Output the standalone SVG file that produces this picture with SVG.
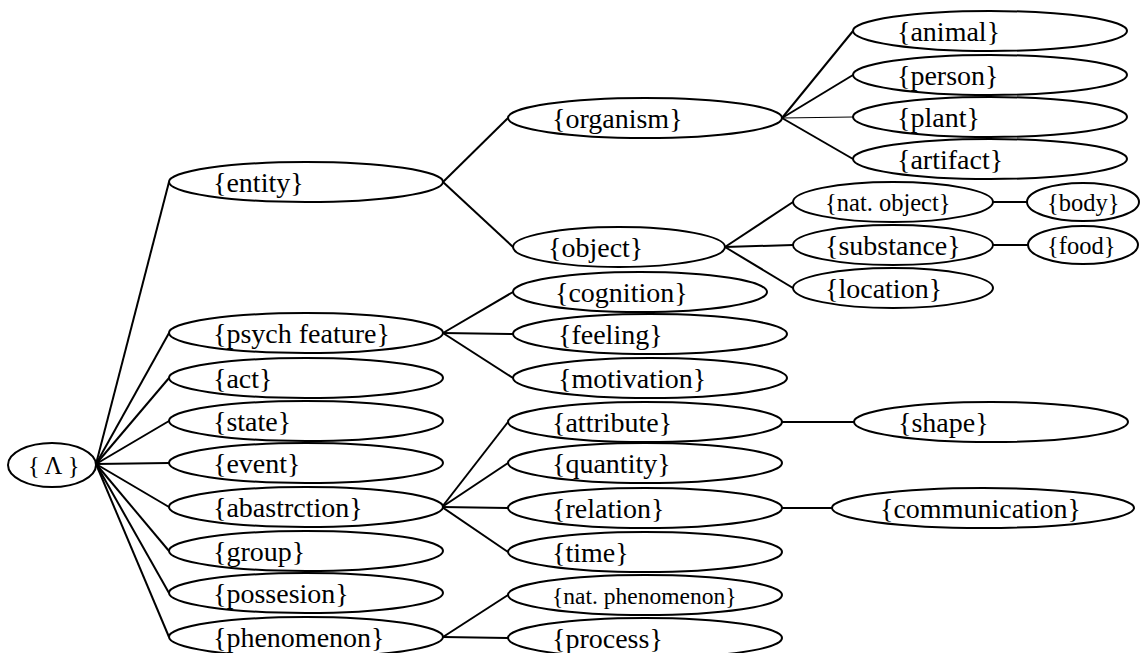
<svg xmlns="http://www.w3.org/2000/svg" width="1141" height="653" viewBox="0 0 1141 653">
<style>
ellipse{fill:#fff;stroke:#000;stroke-width:2}
text{font-family:"Liberation Serif","Times New Roman",serif;font-size:28px;fill:#000}
.sm{font-size:24.5px}
.xs{font-size:23.5px}
#connectors line{stroke:#000;stroke-width:2}
#connectors line.thin{stroke-width:1.2}
</style>
<rect width="1141" height="653" fill="#fff"/>
<g id="connectors">
<line x1="96" y1="464" x2="169" y2="182"/>
<line x1="96" y1="464" x2="169" y2="333"/>
<line x1="96" y1="464" x2="169" y2="378"/>
<line x1="96" y1="464" x2="169" y2="421"/>
<line x1="96" y1="464" x2="169" y2="463"/>
<line x1="96" y1="464" x2="169" y2="507"/>
<line x1="96" y1="464" x2="169" y2="551"/>
<line x1="96" y1="464" x2="169" y2="593"/>
<line x1="96" y1="464" x2="169" y2="637"/>
<line x1="443" y1="182" x2="508" y2="118"/>
<line x1="443" y1="182" x2="513" y2="247"/>
<line x1="782" y1="118" x2="853" y2="31"/>
<line x1="782" y1="118" x2="853" y2="75"/>
<line class="thin" x1="782" y1="118" x2="853" y2="117"/>
<line x1="782" y1="118" x2="853" y2="159"/>
<line x1="725" y1="247" x2="793" y2="202"/>
<line x1="725" y1="247" x2="793" y2="245"/>
<line x1="725" y1="247" x2="793" y2="288"/>
<line x1="993" y1="202" x2="1027" y2="202"/>
<line x1="993" y1="245" x2="1028" y2="245"/>
<line x1="443" y1="333" x2="513" y2="292"/>
<line x1="443" y1="333" x2="513" y2="334"/>
<line x1="443" y1="333" x2="513" y2="378"/>
<line x1="442" y1="507" x2="508" y2="422"/>
<line x1="442" y1="507" x2="508" y2="463"/>
<line x1="442" y1="507" x2="508" y2="508"/>
<line x1="442" y1="507" x2="508" y2="552"/>
<line x1="443" y1="637" x2="508" y2="595"/>
<line x1="443" y1="637" x2="508" y2="638"/>
<line x1="782" y1="422" x2="854" y2="422"/>
<line x1="782" y1="508" x2="832" y2="508"/>
</g>
<g id="root"><ellipse cx="52" cy="465" rx="44" ry="22"/><text x="28" y="474" class="sm">{ Λ }</text></g>
<g id="entity"><ellipse cx="306" cy="182" rx="137" ry="20"/><text x="213" y="192">{entity}</text></g>
<g id="psych-feature"><ellipse cx="306" cy="333" rx="137" ry="20"/><text x="213" y="343">{psych feature}</text></g>
<g id="act"><ellipse cx="306" cy="378" rx="137" ry="20"/><text x="213" y="388">{act}</text></g>
<g id="state"><ellipse cx="306" cy="421" rx="137" ry="20"/><text x="213" y="431">{state}</text></g>
<g id="event"><ellipse cx="306" cy="463" rx="137" ry="20"/><text x="213" y="473">{event}</text></g>
<g id="abastrction"><ellipse cx="306" cy="507" rx="137" ry="20"/><text x="213" y="517">{abastrction}</text></g>
<g id="group"><ellipse cx="306" cy="551" rx="137" ry="20"/><text x="213" y="561">{group}</text></g>
<g id="possesion"><ellipse cx="306" cy="593" rx="137" ry="20"/><text x="213" y="603">{possesion}</text></g>
<g id="phenomenon"><ellipse cx="306" cy="637" rx="137" ry="20"/><text x="213" y="647">{phenomenon}</text></g>
<g id="organism"><ellipse cx="645" cy="118" rx="137" ry="20"/><text x="552" y="128">{organism}</text></g>
<g id="object"><ellipse cx="619" cy="247" rx="106" ry="20"/><text x="548" y="257">{object}</text></g>
<g id="cognition"><ellipse cx="640" cy="292" rx="127" ry="20"/><text x="555" y="302">{cognition}</text></g>
<g id="feeling"><ellipse cx="650" cy="334" rx="137" ry="20"/><text x="558" y="344">{feeling}</text></g>
<g id="motivation"><ellipse cx="650" cy="378" rx="137" ry="20"/><text x="558" y="388">{motivation}</text></g>
<g id="attribute"><ellipse cx="645" cy="422" rx="137" ry="20"/><text x="552" y="432">{attribute}</text></g>
<g id="quantity"><ellipse cx="645" cy="463" rx="137" ry="20"/><text x="552" y="473">{quantity}</text></g>
<g id="relation"><ellipse cx="645" cy="508" rx="137" ry="20"/><text x="552" y="518">{relation}</text></g>
<g id="time"><ellipse cx="645" cy="552" rx="137" ry="20"/><text x="552" y="562">{time}</text></g>
<g id="nat-phenomenon"><ellipse cx="645" cy="595" rx="137" ry="20"/><text x="552" y="604" class="xs">{nat. phenomenon}</text></g>
<g id="process"><ellipse cx="645" cy="638" rx="137" ry="20"/><text x="552" y="648">{process}</text></g>
<g id="animal"><ellipse cx="990" cy="31" rx="137" ry="20"/><text x="897" y="41">{animal}</text></g>
<g id="person"><ellipse cx="990" cy="75" rx="137" ry="20"/><text x="897" y="85">{person}</text></g>
<g id="plant"><ellipse cx="990" cy="117" rx="137" ry="20"/><text x="897" y="127">{plant}</text></g>
<g id="artifact"><ellipse cx="990" cy="159" rx="137" ry="20"/><text x="897" y="169">{artifact}</text></g>
<g id="nat-object"><ellipse cx="893" cy="202" rx="100" ry="20"/><text x="825" y="211" class="sm">{nat. object}</text></g>
<g id="substance"><ellipse cx="893" cy="245" rx="100" ry="20"/><text x="825" y="255">{substance}</text></g>
<g id="location"><ellipse cx="893" cy="288" rx="100" ry="20"/><text x="825" y="298">{location}</text></g>
<g id="body"><ellipse cx="1083" cy="202" rx="56" ry="19"/><text x="1047" y="211" class="sm">{body}</text></g>
<g id="food"><ellipse cx="1083" cy="245" rx="55" ry="19"/><text x="1047" y="254" class="sm">{food}</text></g>
<g id="shape"><ellipse cx="991" cy="422" rx="137" ry="20"/><text x="898" y="432">{shape}</text></g>
<g id="communication"><ellipse cx="983" cy="508" rx="151" ry="20"/><text x="880" y="518">{communication}</text></g>
</svg>
